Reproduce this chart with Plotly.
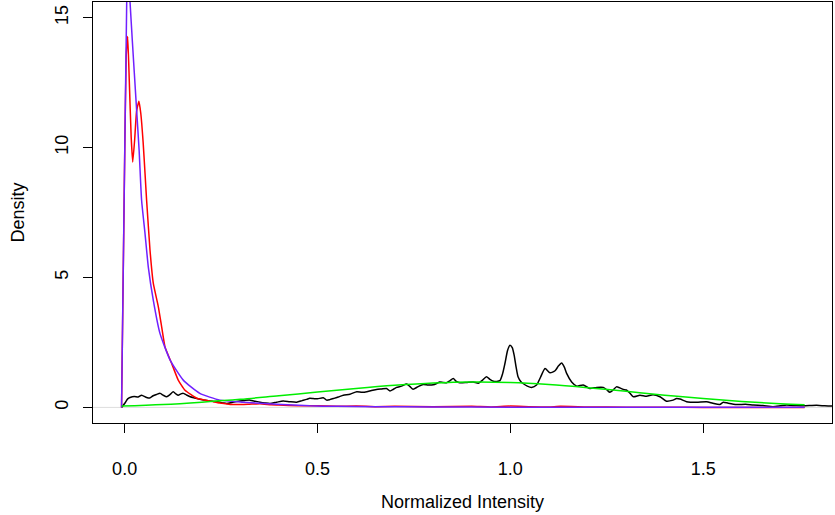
import plotly.graph_objects as go

# ---- data ----
black_x = [-0.008, 0.0, 0.008, 0.014, 0.025, 0.035, 0.044, 0.057, 0.065, 0.074, 0.083, 0.092, 0.1, 0.109,
           0.118, 0.126, 0.133, 0.139, 0.146, 0.152, 0.16, 0.17, 0.182, 0.195, 0.208, 0.221, 0.234, 0.247,
           0.256, 0.265, 0.28, 0.299, 0.312, 0.325, 0.338, 0.351, 0.364, 0.377, 0.394, 0.411, 0.428, 0.446,
           0.46, 0.472, 0.48, 0.489, 0.5, 0.515, 0.524, 0.532, 0.541, 0.554, 0.567, 0.584, 0.602, 0.615,
           0.628, 0.64, 0.653, 0.666, 0.679, 0.688, 0.697, 0.705, 0.718, 0.731, 0.74, 0.748, 0.761, 0.774,
           0.787, 0.8, 0.809, 0.817, 0.826, 0.835, 0.843, 0.852, 0.86, 0.869, 0.886, 0.904, 0.917, 0.928,
           0.938, 0.947, 0.956, 0.965, 0.973, 0.98, 0.986, 0.993, 0.999, 1.005, 1.01, 1.015, 1.02, 1.027,
           1.033, 1.044, 1.055, 1.068, 1.078, 1.09, 1.103, 1.116, 1.125, 1.133, 1.14, 1.146, 1.159, 1.172,
           1.189, 1.206, 1.224, 1.241, 1.25, 1.258, 1.266, 1.275, 1.284, 1.293, 1.301, 1.31, 1.319, 1.336,
           1.353, 1.37, 1.388, 1.405, 1.422, 1.431, 1.44, 1.457, 1.483, 1.509, 1.525, 1.543, 1.552, 1.565,
           1.587, 1.61, 1.63, 1.655, 1.681, 1.7, 1.716, 1.74, 1.76, 1.794, 1.815, 1.833, 1.86]
black_y = [0.0, 0.15, 0.33, 0.38, 0.42, 0.40, 0.47, 0.38, 0.36, 0.45, 0.50, 0.54, 0.47, 0.41,
           0.50, 0.60, 0.52, 0.47, 0.52, 0.54, 0.48, 0.41, 0.36, 0.31, 0.28, 0.25, 0.23, 0.20,
           0.17, 0.15, 0.20, 0.25, 0.27, 0.28, 0.24, 0.20, 0.17, 0.15, 0.20, 0.25, 0.22, 0.20,
           0.26, 0.31, 0.35, 0.34, 0.33, 0.37, 0.28, 0.30, 0.34, 0.40, 0.47, 0.51, 0.60, 0.58,
           0.60, 0.65, 0.69, 0.71, 0.73, 0.63, 0.70, 0.77, 0.82, 0.90, 0.80, 0.70, 0.80, 0.88,
           0.86, 0.87, 0.92, 0.98, 0.96, 0.95, 1.02, 1.11, 1.00, 0.95, 0.96, 0.98, 0.93, 1.05,
           1.18, 1.08, 1.01, 1.00, 1.03, 1.30, 1.69, 2.20, 2.39, 2.30, 2.00, 1.55, 1.18, 1.00,
           0.92, 0.82, 0.77, 0.86, 1.15, 1.50, 1.33, 1.41, 1.60, 1.71, 1.55, 1.31, 0.98, 0.82,
           0.86, 0.73, 0.77, 0.77, 0.68, 0.58, 0.66, 0.79, 0.75, 0.69, 0.67, 0.55, 0.41, 0.47,
           0.43, 0.49, 0.41, 0.24, 0.28, 0.34, 0.32, 0.22, 0.20, 0.22, 0.16, 0.11, 0.20, 0.16,
           0.11, 0.12, 0.09, 0.07, 0.03, 0.06, 0.09, 0.07, 0.06, 0.08, 0.06, 0.05, 0.04]

red_x = [-0.008, -0.0016, 0.004, 0.008, 0.012, 0.017, 0.021, 0.026, 0.031, 0.037, 0.042, 0.048,
         0.0529, 0.057, 0.0658, 0.0744, 0.0874, 0.096, 0.1047, 0.122, 0.139, 0.1566, 0.187, 0.23,
         0.247, 0.281, 0.32, 0.351, 0.38, 0.4, 0.45, 0.5, 0.55, 0.6, 0.65, 0.7, 0.8, 0.9, 0.95, 1.0,
         1.05, 1.1, 1.13, 1.2, 1.3, 1.4, 1.5, 1.763]
red_y = [0.0, 7.58, 13.5, 14.27, 12.6, 10.4, 9.44, 10.3, 11.4, 11.78, 11.3, 10.2,
         9.0, 7.97, 6.05, 4.77, 3.87, 3.10, 2.33, 1.69, 1.05, 0.66, 0.35, 0.22,
         0.17, 0.11, 0.12, 0.14, 0.10, 0.09, 0.06, 0.06, 0.04, 0.05, 0.03, 0.04, 0.03, 0.04, 0.02, 0.05,
         0.03, 0.02, 0.04, 0.02, 0.01, 0.01, 0.0, 0.0]

blue_x = [-0.008, -0.0016, 0.0054, 0.0075, 0.01, 0.014, 0.02, 0.03, 0.0376, 0.044, 0.0529, 0.0614,
          0.0744, 0.0918, 0.118, 0.152, 0.195, 0.247, 0.307, 0.394, 0.48, 0.55, 0.65, 0.8, 1.0, 1.3, 1.763]
blue_y = [0.0, 7.58, 15.6, 16.9, 16.7, 15.6, 14.1, 11.7, 9.89, 7.97, 6.69, 5.40,
          4.12, 2.84, 1.82, 1.05, 0.54, 0.28, 0.20, 0.12, 0.06, 0.04, 0.03, 0.02, 0.01, 0.005, 0.002]

green_x = [-0.008, 0.1, 0.2, 0.3, 0.4, 0.5, 0.6, 0.7, 0.8, 0.9, 1.0, 1.1, 1.2, 1.3, 1.4, 1.5, 1.6, 1.7, 1.763]
green_y = [0.05, 0.11, 0.20, 0.31, 0.45, 0.59, 0.73, 0.85, 0.94, 0.98, 0.96, 0.88, 0.76, 0.62, 0.47, 0.34, 0.23, 0.14, 0.10]

x_ticks = [0.0, 0.5, 1.0, 1.5]
x_tick_labels = ["0.0", "0.5", "1.0", "1.5"]
y_ticks = [0, 5, 10, 15]
y_tick_labels = ["0", "5", "10", "15"]

FONT = "Liberation Sans, Arial, sans-serif"

fig = go.Figure()
fig.add_trace(go.Scatter(x=black_x, y=black_y, mode="lines",
                         line=dict(color="#000000", width=1.5, shape="spline", smoothing=0.6)))
fig.add_trace(go.Scatter(x=red_x, y=red_y, mode="lines",
                         line=dict(color="#FF0000", width=1.5, shape="spline", smoothing=0.4)))
fig.add_trace(go.Scatter(x=blue_x, y=blue_y, mode="lines",
                         line=dict(color="#7020FF", width=1.5, shape="spline", smoothing=0.5)))
fig.add_trace(go.Scatter(x=green_x, y=green_y, mode="lines",
                         line=dict(color="#00EE00", width=1.5, shape="spline", smoothing=1.0)))

fig.add_shape(type="line", xref="paper", yref="y", x0=0, x1=1, y0=0, y1=0,
              line=dict(color="#DDDDDD", width=1), layer="below")

axis_common = dict(showgrid=False, zeroline=False, showline=True, linecolor="black", linewidth=1,
                   mirror=True, ticks="outside", ticklen=9, tickcolor="black", tickwidth=1,
                   tickfont=dict(family=FONT, size=18, color="black"))

fig.update_layout(
    width=835, height=515,
    margin=dict(l=93, r=3, t=2, b=92),
    paper_bgcolor="white", plot_bgcolor="white",
    showlegend=False,
    xaxis=dict(range=[-0.082, 1.834], tickvals=x_ticks, ticktext=x_tick_labels,
               ticklabelstandoff=20, **axis_common),
    yaxis=dict(range=[-0.6, 15.6], tickvals=y_ticks, ticktext=y_tick_labels,
               tickangle=-90, ticklabelstandoff=8, **axis_common),
    annotations=[
        dict(text="Normalized Intensity", xref="paper", yref="paper", x=0.5, y=0,
             xanchor="center", yanchor="middle", yshift=-79, showarrow=False,
             font=dict(family=FONT, size=18, color="black")),
        dict(text="Density", xref="paper", yref="paper", x=0, y=0.5,
             xanchor="center", yanchor="middle", xshift=-76, textangle=-90, showarrow=False,
             font=dict(family=FONT, size=18, color="black")),
    ],
)

fig.write_html("out.html")
